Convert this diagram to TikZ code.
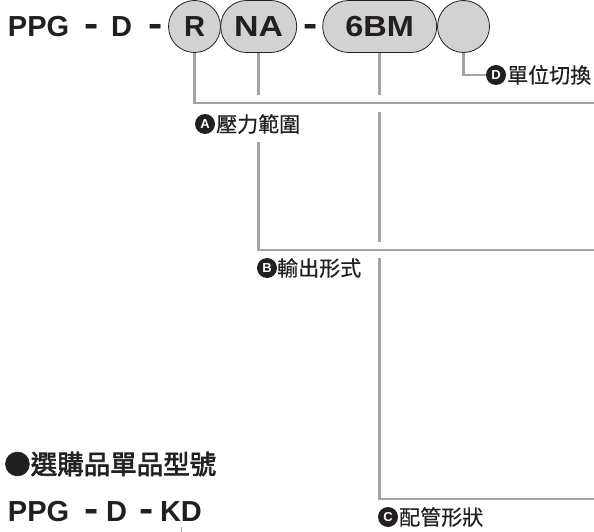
\documentclass[tikz,border=0pt]{standalone}
\usepackage{fontspec}
\setmainfont{Liberation Sans}
\newfontfamily\cjk[FakeBold=0.5]{Noto Sans CJK TC}
\newfontfamily\cjkhead[FakeBold=2.5]{Noto Sans CJK TC}
\definecolor{linegray}{HTML}{A3A3A3}
\definecolor{bubble}{HTML}{D2D2D2}
\definecolor{ink}{HTML}{231F20}
\begin{document}
\begin{tikzpicture}[x=1pt,y=-1pt,
  conn/.style={draw=linegray, line width=2.6pt},
  bub/.style={draw=ink, line width=0.8pt, fill=bubble, text=ink, font=\fontsize{29}{29}\selectfont\bfseries, inner sep=0pt, minimum height=52pt},
  roundbub/.style={bub, circle, minimum size=52pt},
  pillbub/.style={bub, rectangle, rounded corners=25.9pt},
  codetext/.style={text=ink, inner sep=0pt, anchor=base west, font=\fontsize{29}{29}\selectfont\bfseries},
  badge/.style={circle, fill=ink, text=white, inner sep=0pt, minimum size=20pt, font=\fontsize{13}{13}\selectfont\bfseries},
  lab/.style={text=ink, inner sep=0pt, anchor=west, font=\cjk\fontsize{21}{21}\selectfont},
  head/.style={text=ink, inner sep=0pt, anchor=west, font=\cjkhead\fontsize{26.5}{26.5}\selectfont}
]
\useasboundingbox (0,0) rectangle (594,532);

% top code line
\node[codetext] (ppg) at (7.8,37) {PPG};
\node[codetext] (h1) at (84.6,37) {\scalebox{1.47}[1.3]{-}};
\node[codetext] (d1) at (110.8,37) {D};
\node[codetext] (h2) at (148.6,37) {\scalebox{1.47}[1.3]{-}};
\node[roundbub] (R) at (194.5,26.5) {R};
\node[pillbub, minimum width=76pt] (NA) at (258.7,26.5) {\scalebox{1.17}[1]{NA}};
\node[codetext] (h3) at (303.6,37) {\scalebox{1.47}[1.3]{-}};
\node[pillbub, minimum width=114pt] (BM) at (379.7,26.5) {\scalebox{1.12}[1]{6BM}};
\node[roundbub] (E) at (463.5,26.5) {};

% labels
\node[badge] (Ab) at (205,124) {A};
\node[lab] (At) at (216,124) {壓力範圍};
\node[badge] (Bb) at (267,268) {B};
\node[lab] (Bt) at (277,268) {輸出形式};
\node[badge] (Cb) at (388,517) {C};
\node[lab] (Ct) at (399,517) {配管形狀};
\node[badge] (Db) at (496,75) {D};
\node[lab] (Dt) at (507,75) {單位切換};

% coordinates
\coordinate (Aend) at (594,103);
\coordinate (NAa) at (258.7,95);
\coordinate (NAb) at (258.7,142);
\coordinate (Bend) at (594,250);
\coordinate (BMa) at (379.7,95);
\coordinate (BMb) at (379.7,112);
\coordinate (BMc) at (379.7,242);
\coordinate (BMd) at (379.7,258);
\coordinate (Cend) at (594,499);

% connectors
\draw[conn] (R.south) |- (Aend);
\draw[conn] (NA.south) -- (NAa);
\draw[conn] (NAb) |- (Bend);
\draw[conn] (BM.south) -- (BMa);
\draw[conn] (BMb) -- (BMc);
\draw[conn] (BMd) |- (Cend);
\draw[conn] (E.south) |- (Db.west);

% optional part
\node[head] (opt) at (4,464) {●選購品單品型號};
\node[codetext] (ppg2) at (7.8,521) {PPG};
\node[codetext] (h4) at (84.6,521) {\scalebox{1.47}[1.3]{-}};
\node[codetext] (d2) at (105.8,521) {D};
\node[codetext] (h5) at (139.3,521) {\scalebox{1.47}[1.3]{-}};
\node[codetext] (kd) at (159.8,521) {KD};
\coordinate (m1) at (181,527);
\coordinate (m2) at (181,532);
\draw[conn, line width=1pt] (m1) -- (m2);
\end{tikzpicture}
\end{document}
